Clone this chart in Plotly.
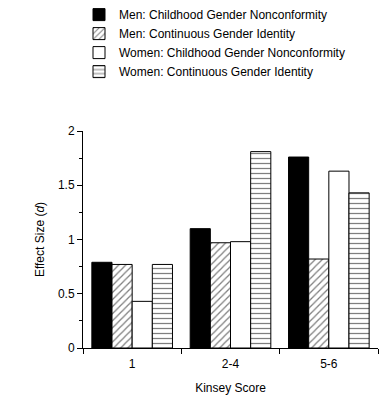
import plotly.graph_objects as go

categories = ["1", "2-4", "5-6"]
series_names = [
    "Men: Childhood Gender Nonconformity",
    "Men: Continuous Gender Identity",
    "Women: Childhood Gender Nonconformity",
    "Women: Continuous Gender Identity",
]
men_cgn = [0.79, 1.10, 1.76]
men_cgi = [0.77, 0.97, 0.82]
women_cgn = [0.43, 0.98, 1.63]
women_cgi = [0.77, 1.81, 1.43]
y_ticks = [0, 0.5, 1, 1.5, 2]
y_tick_labels = ["0", "0.5", "1", "1.5", "2"]

FONT = "Liberation Sans, Arial, Helvetica, sans-serif"

styles = [
    dict(color="black", pattern=dict(shape="")),
    dict(color="white", pattern=dict(shape="/", fgcolor="black", bgcolor="white", size=5, solidity=0.25)),
    dict(color="white", pattern=dict(shape="")),
    dict(color="white", pattern=dict(shape="-", fgcolor="black", bgcolor="white", size=5, solidity=0.25)),
]
values = [men_cgn, men_cgi, women_cgn, women_cgi]

fig = go.Figure()
for name, vals, st in zip(series_names, values, styles):
    fig.add_trace(go.Bar(
        x=categories, y=vals, name=name,
        marker=dict(color=st["color"], pattern=st["pattern"],
                    line=dict(color="black", width=1)),
    ))

L, R, T, B = 83, 13.5, 130.5, 51.5
pw = 392 - L - R
ph = 400 - T - B

fig.update_layout(
    width=392, height=400,
    margin=dict(l=L, r=R, t=T, b=B, autoexpand=False),
    paper_bgcolor="white", plot_bgcolor="white",
    font=dict(family=FONT, size=12, color="black"),
    barmode="group", bargap=0.18, bargroupgap=0,
    showlegend=True,
    legend=dict(
        x=(79 - L) / pw, y=(400 - B + 1) / ph, xanchor="left", yanchor="top",
        font=dict(family=FONT, size=12, color="black"),
        bgcolor="rgba(0,0,0,0)", borderwidth=0,
        traceorder="normal",
    ),
    xaxis=dict(
        type="category", range=[-0.5, 2.5], automargin=False,
        showline=True, linecolor="black", linewidth=1,
        ticks="outside", tickson="boundaries", ticklen=5, tickcolor="black",
        ticklabelstandoff=5,
        showgrid=False, zeroline=False,
        title=dict(text="Kinsey Score", standoff=13, font=dict(size=12)),
    ),
    yaxis=dict(
        range=[0, 2], automargin=False,
        tickvals=y_ticks, ticktext=y_tick_labels,
        showline=True, linecolor="black", linewidth=1,
        ticks="outside", ticklen=5, tickcolor="black",
        minor=dict(dtick=0.25, ticks="outside", ticklen=3, tickcolor="black", showgrid=False),
        showgrid=False, zeroline=False,
        title=dict(text="Effect Size (<i>d</i>)", standoff=10, font=dict(size=12)),
    ),
)

fig.write_html("out.html", config={"displayModeBar": False},
               post_script="document.body.style.margin='0';")
